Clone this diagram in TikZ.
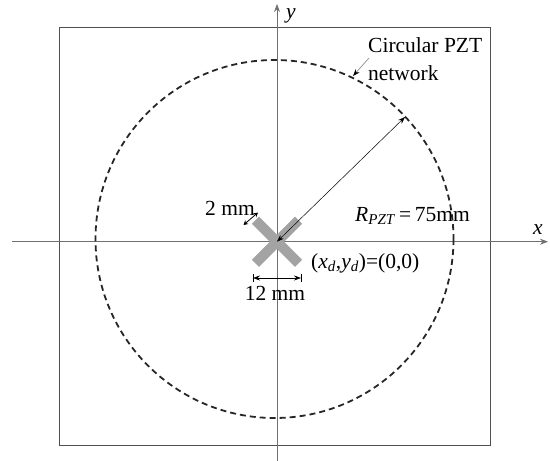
\documentclass[tikz,border=0pt]{standalone}
\usepackage{fontspec}
\setmainfont{Liberation Serif}
\usetikzlibrary{arrows.meta,calc}
\definecolor{crossgray}{HTML}{A3A3A3}
\definecolor{axisgray}{HTML}{707070}
\definecolor{boxgray}{HTML}{505050}
\tikzset{
  lbl/.style={inner sep=0pt, font=\fontsize{21.5}{24}\selectfont},
  axis/.style={draw=axisgray, line width=0.9pt, -{Stealth[length=8pt,width=6pt]}},
  bar/.style={fill=crossgray, draw=none, minimum width=61pt, minimum height=10pt, inner sep=0pt, rotate=#1},
  dim/.style={draw=black, line width=0.6pt, {Stealth[length=7pt,width=5pt]}-{Stealth[length=7pt,width=5pt]}},
  smalldim/.style={draw=black, line width=0.8pt, {Stealth[length=4.5pt,width=5pt]}-{Stealth[length=4.5pt,width=5pt]}},
  pointer/.style={draw=gray, line width=0.6pt, -{Stealth[length=7pt,width=5pt,black]}},
}
\begin{document}
\begin{tikzpicture}[x=1pt,y=-1pt]
\useasboundingbox (0,0) rectangle (550,461);
% frame
\draw[boxgray, line width=1.3pt] (59.5,27.7) rectangle (490.7,445.7);
% axes
\coordinate (O) at (277,241.7);
\coordinate (xl) at (12,241.7);
\coordinate (xr) at (548,241.7);
\coordinate (yb) at (277,461);
\coordinate (yt) at (277,4);
\draw[axis] (xl) -- (xr);
\draw[axis] (yb) -- (yt);
\node[lbl, font=\fontsize{21.5}{24}\selectfont\itshape] (xlab) at (538,230) {x};
\node[lbl, font=\fontsize{21.5}{24}\selectfont\itshape] (ylab) at (291,16) {y};
% circle
\coordinate (C) at (274.5,239);
\draw[black!85, line width=1.8pt, dash pattern=on 6pt off 4pt] (C) circle[radius=179];
% cross
\node[bar=45] (b1) at (O) {};
\node[bar=-45] (b2) at (O) {};
% radius arrow
\coordinate (Rc) at (405,117);
\draw[dim, line width=0.5pt] (Rc) -- (O);
\node[lbl, anchor=base west] (rlab) at (355,221) {\textit{R}\textsubscript{\textit{PZT}}\,=\,75mm};
% labels
\node[lbl, anchor=base west] (orig) at (311,268) {(\textit{x\textsubscript{d}},\textit{y\textsubscript{d}})=(0,0)};
\node[lbl, anchor=base west] (circ) at (368,52) {Circular PZT};
\node[lbl, anchor=base west] (net) at (368,80) {network};
\coordinate (pt) at (369,58);
\coordinate (ph) at (353,76);
\draw[pointer] (pt) -- (ph);
% 2 mm
\node[lbl, anchor=base east] (twomm) at (255,215) {2 mm};
\coordinate (t1) at (243.5,225);
\coordinate (t2) at (258,212.5);
\draw[smalldim] (t1) -- (t2);
% 12 mm
\coordinate (d1) at (253,278);
\coordinate (d2) at (301,278);
\draw[dim] (d1) -- (d2);
\draw[line width=0.5pt] (253,274) -- (253,282) (301,274) -- (301,282);
\node[lbl, anchor=base] (twelve) at (275,300) {12 mm};
\end{tikzpicture}
\end{document}
